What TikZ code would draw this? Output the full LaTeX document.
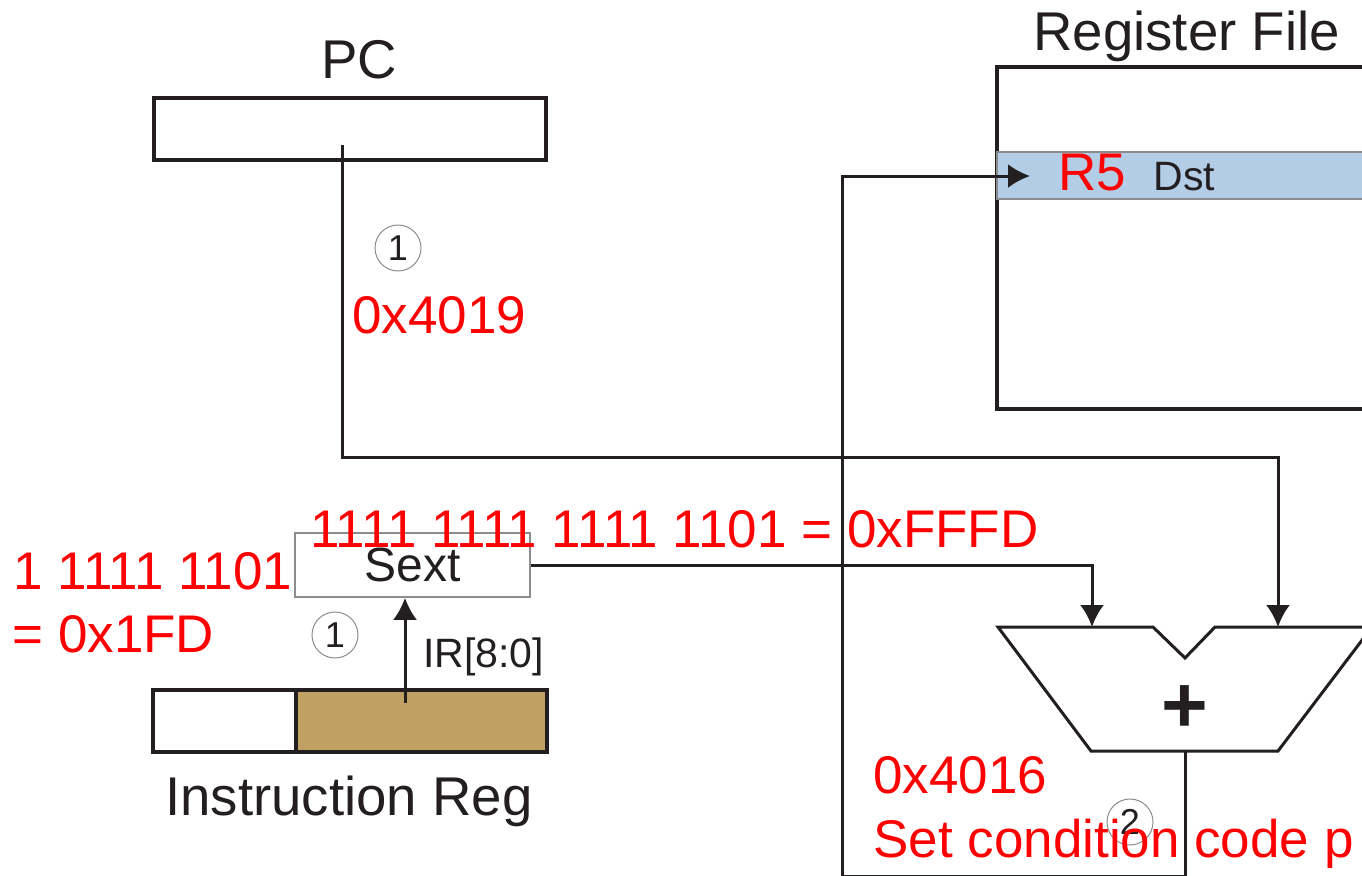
\documentclass[tikz,border=0pt]{standalone}
\usepackage{fontspec}
\setmainfont{Liberation Sans}
\usepackage{xcolor}
\usepackage{tikz}
\usetikzlibrary{arrows.meta,positioning}
\definecolor{wireblack}{HTML}{231F20}
\definecolor{valred}{HTML}{FF0000}
\definecolor{irtan}{HTML}{C1A063}
\definecolor{rowblue}{HTML}{B3CDE7}
\definecolor{edgegray}{HTML}{8C8C8C}
\tikzset{
  regbox/.style={draw=wireblack,line width=2pt,inner sep=0pt,fill=white},
  sextbox/.style={draw=edgegray,line width=0.8pt,fill=white,inner sep=0pt,font=\fontsize{24}{24}\selectfont,text=wireblack},
  wire/.style={draw=wireblack,line width=1.5pt},
  wirearrow/.style={wire,-{Latex[length=11pt,width=12pt]}},
  stepmark/.style={circle,draw=edgegray,line width=0.5pt,minimum size=23pt,inner sep=0pt,font=\fontsize{18}{18}\selectfont,text=wireblack},
  valtext/.style={text=valred,inner sep=0pt,font=\fontsize{26.5}{26.5}\selectfont},
  titletext/.style={text=wireblack,inner sep=0pt,font=\fontsize{27.3}{27.3}\selectfont},
  smalltext/.style={text=wireblack,inner sep=0pt,font=\fontsize{20.5}{20.5}\selectfont},
}
\begin{document}
\begin{tikzpicture}[x=0.5pt,y=-0.5pt]
  \useasboundingbox (0,0) rectangle (1362,875);
  \clip (0,0) rectangle (1362,875);
  % boxes
  \node[regbox,minimum width=196pt,minimum height=31pt] (pc) at (350,129) {};
  \node[regbox,minimum width=71.5pt,minimum height=31pt] (iropcode) at (224.5,721) {};
  \node[regbox,fill=irtan,minimum width=125.5pt,minimum height=31pt] (irfields) at (421.5,721) {};
  \node[sextbox,minimum width=117.5pt,minimum height=32pt] (sext) at (412.5,565) {Sext};
  \node[regbox,line width=1.6pt,minimum width=201.5pt,minimum height=171pt] (regfile) at (1198.5,238) {};
  \node[draw=edgegray,line width=0.6pt,fill=rowblue,minimum width=201.5pt,minimum height=23.5pt,inner sep=0pt] (r5row) at (1198.5,175.5) {};
  % adder
  \draw[wire] (998,627) -- (1153,627) -- (1185,658) -- (1215,627) -- (1372,627) -- (1278,751) -- (1091,751) -- cycle;
  \node[text=wireblack,inner sep=0pt,font=\fontsize{40}{40}\selectfont\bfseries] (plus) at (1185,709) {+};
  \coordinate (addina) at (1092,627);
  \coordinate (addinb) at (1278,627);
  \coordinate (addout) at (1185,751);
  \coordinate (pcout) at (342,145);
  \coordinate (irbits) at (405,703);
  \coordinate (r5tip) at (1030,176);
  \coordinate (loopcorner) at (842,876);
  % connectors
  \draw[wirearrow] (pcout) -- ++(0,312) -| (addinb);
  \draw[wirearrow] (sext.east) -| (addina);
  \draw[wirearrow] (irbits) -- (irbits |- sext.south);
  \draw[wirearrow] (addout) |- (loopcorner) |- (r5tip);
  % step marks
  \node[stepmark] (stepa) at (398,248) {1};
  \node[stepmark] (stepb) at (335,635) {1};
  \node[stepmark] (stepc) at (1130,822) {2};
  % labels
  \node[titletext,anchor=base] (pclabel) at (359,78) {PC};
  \node[titletext,anchor=base west] (rflabel) at (1033,50) {Register File};
  \node[titletext,anchor=base west] (irlabel) at (165,815) {Instruction Reg};
  \node[smalltext,anchor=base west] (dstlabel) at (1153,190) {Dst};
  \node[smalltext,anchor=base west] (irfieldlabel) at (423,667) {IR[8:0]};
  \node[valtext,anchor=base west] (r5val) at (1058,190) {R5};
  \node[valtext,anchor=base west] (pcval) at (352,333) {0x4019};
  \node[valtext,anchor=base west] (sextval) at (310,547) {1111 1111 1111 1101 = 0xFFFD};
  \node[valtext,anchor=base west] (immval) at (13,589) {1 1111 1101};
  \node[valtext,anchor=base west] (immhex) at (12,652) {= 0x1FD};
  \node[valtext,anchor=base west] (sumval) at (873,793) {0x4016};
  \node[valtext,anchor=base west] (ccval) at (873,857) {Set condition code p};
\end{tikzpicture}
\end{document}
